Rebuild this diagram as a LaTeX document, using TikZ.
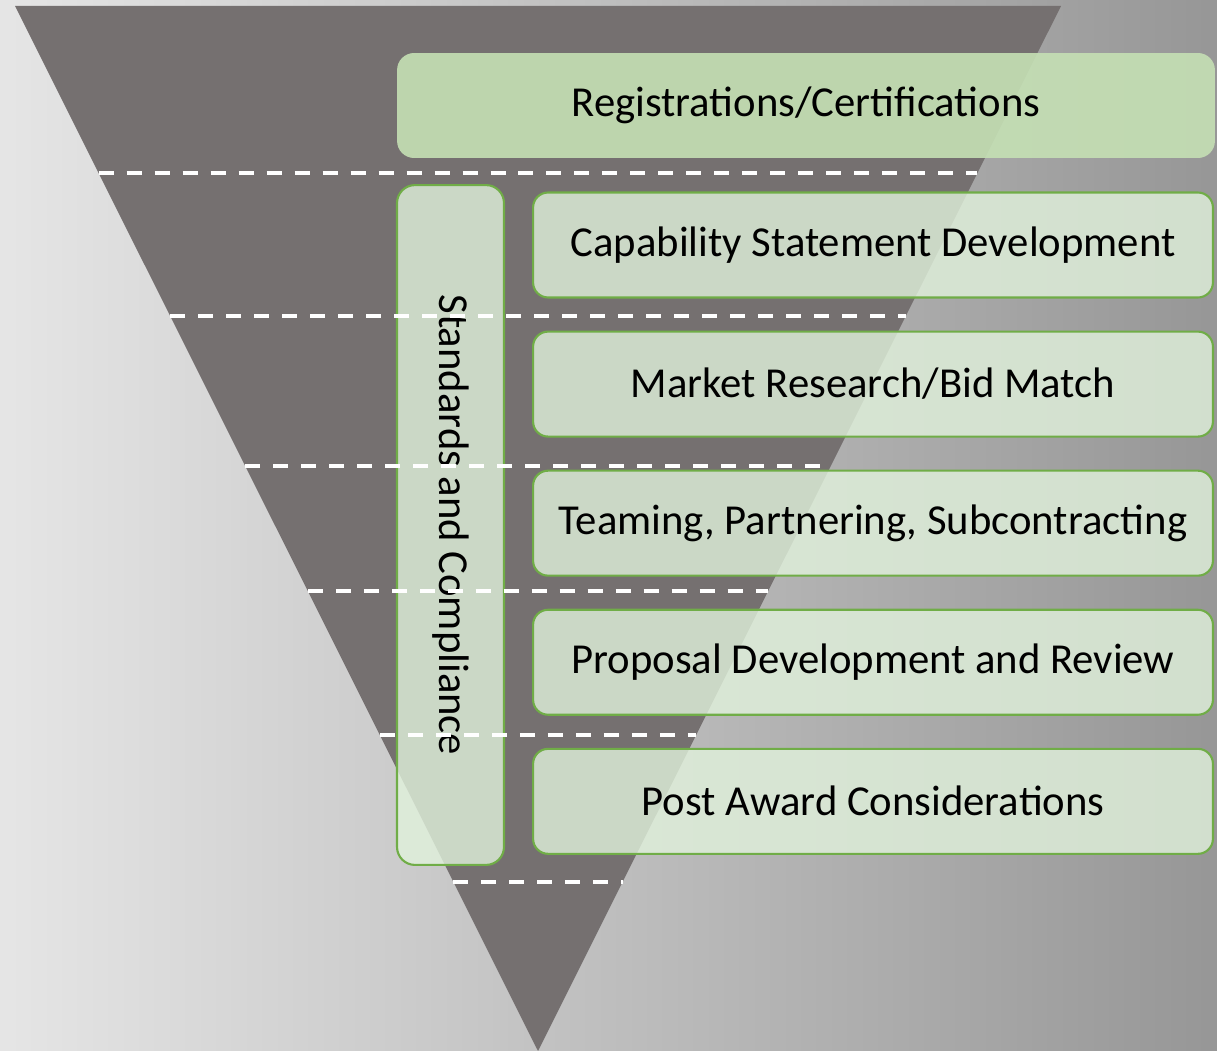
\documentclass[tikz,border=0pt]{standalone}
\usepackage{fontspec}
\setmainfont{Carlito}
\usetikzlibrary{positioning,calc}
\definecolor{funnelgray}{HTML}{757070}
\definecolor{boxgreen}{HTML}{70AD47}
\definecolor{boxfill}{HTML}{E1F2DC}
\definecolor{topfill}{HTML}{C5E0B4}
\tikzset{
   stepbox/.style={draw=boxgreen, line width=1.2pt, fill=boxfill, fill opacity=0.8, text opacity=1,
      rounded corners=0.3cm, minimum width=13.6cm, minimum height=2.1cm, inner sep=0pt,
      font=\fontsize{24.3}{29}\selectfont},
   topbox/.style={stepbox, draw=none, fill=topfill, fill opacity=0.9, rounded corners=0.34cm,
      minimum width=16.36cm},
   sidebox/.style={stepbox, rotate=-90, rounded corners=0.36cm, minimum width=13.6cm,
      minimum height=2.14cm},
   sepline/.style={draw=white, line width=2.3pt, dash pattern=on 0.3cm off 0.26cm}
}

\begin{document}
\begin{tikzpicture}[x=0.02cm, y=-0.02cm]
      \shade[left color=black!10, middle color=black!16, right color=black!41]
         (0,0) rectangle (1217,1051);
      \useasboundingbox (0,0) rectangle (1217,1051);

      \coordinate (tl) at (15,6);
      \coordinate (tr) at (1061,6);
      \coordinate (tip) at (538,1051);
      \fill[funnelgray] (tl) -- (tr) -- (tip) -- cycle;

      \node[topbox] (r0) at (806,105.5) {Registrations/Certifications};
      \node[sidebox] (s0) at (450.5,525) {Standards and Compliance};

      \node[stepbox] (s1) at (873,245) {Capability Statement Development};
      \node[stepbox, below=0.64cm of s1] (s2) {Market Research/Bid Match};
      \node[stepbox, below=0.64cm of s2] (s3) {Teaming, Partnering, Subcontracting};
      \node[stepbox, below=0.64cm of s3] (s4) {Proposal Development and Review};
      \node[stepbox, below=0.64cm of s4] (s5) {Post Award Considerations};

      \foreach \y in {173,316,466,591,735,882}
         \draw[sepline] ($(tl)!{(\y-6)/1045}!(tip)$) -- ($(tr)!{(\y-6)/1045}!(tip)$);
   \end{tikzpicture}
\end{document}
